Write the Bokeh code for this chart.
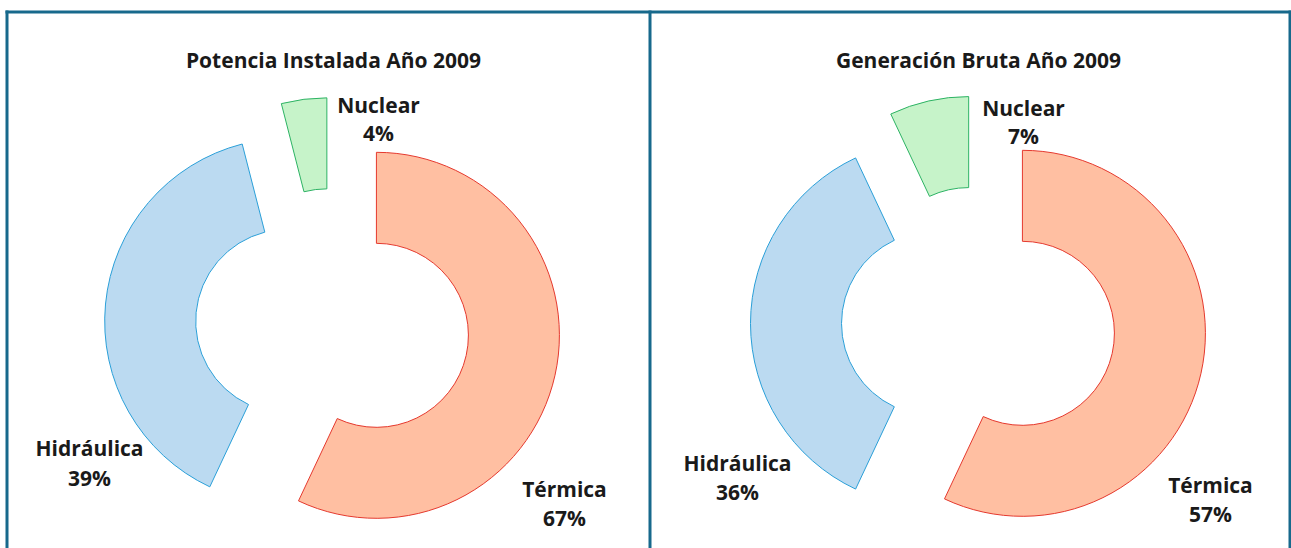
import math
from bokeh.plotting import figure
from bokeh.models import Range1d, ColumnDataSource
from bokeh.core.properties import value
from bokeh.embed import file_html
from bokeh.resources import INLINE

# ---------------- data ----------------
categories = ["Térmica", "Hidráulica", "Nuclear"]
titles = ["Potencia Instalada Año 2009", "Generación Bruta Año 2009"]
# slice sizes as drawn in the picture (percent)
potencia_values = [57, 39, 4]
generacion_values = [57, 36, 7]
# label texts as printed
potencia_labels = ["67%", "39%", "4%"]
generacion_labels = ["57%", "36%", "7%"]

# ---------------- style / layout ----------------
fills = ["#FFBFA2", "#BBDAF1", "#C6F3C9"]
edges = ["#E5392E", "#2A9FD8", "#2DB364"]
frame_color = "#17698C"
text_color = "#1A1A1A"
FONT = "Open Sans"
FS = "21px"

W, H = 1291, 548
Y0 = 548  # screen -> data conversion (y up)

def sy(y):
    return Y0 - y

p = figure(width=W, height=H, x_range=Range1d(0, W), y_range=Range1d(0, H),
           toolbar_location=None, output_backend="svg", min_border=0)
p.axis.visible = False
p.grid.visible = False
p.outline_line_color = None
p.background_fill_color = "white"
p.border_fill_color = "white"

# frame
p.segment(x0=[5, 6.5, 649.5, 1289.5], y0=[sy(11.5), sy(10), sy(10), sy(10)],
          x1=[1291, 6.5, 649.5, 1289.5], y1=[sy(11.5), sy(548), sy(548), sy(548)],
          line_color=frame_color, line_width=3)

panels = [
    dict(cx=332, cy=325, values=potencia_values, labels=potencia_labels, title=titles[0], tx=333, ty=59,
         lab_pos=[(564, 488, 517), (89, 447, 477), (378, 104, 132)]),
    dict(cx=978, cy=323, values=generacion_values, labels=generacion_labels, title=titles[1], tx=978, ty=59,
         lab_pos=[(1210, 484, 513), (737, 462, 491), (1023, 107, 135)]),
]

R_OUT, R_IN, EXPLODE = 183, 92, 45

for pan in panels:
    vals = pan["values"]
    tot = float(sum(vals))
    xs, ys, st, en = [], [], [], []
    cum = 0.0
    for v in vals:
        a0 = cum / tot * 360.0
        a1 = (cum + v) / tot * 360.0
        bis = math.radians((a0 + a1) / 2.0)
        xs.append(pan["cx"] + EXPLODE * math.sin(bis))
        ys.append(sy(pan["cy"]) + EXPLODE * math.cos(bis))
        st.append(math.radians(90.0 - a0))
        en.append(math.radians(90.0 - a1))
        cum += v
    src = ColumnDataSource(dict(x=xs, y=ys, start=st, end=en, fill=fills, line=edges))
    p.annular_wedge(x="x", y="y", inner_radius=R_IN, outer_radius=R_OUT,
                    start_angle="start", end_angle="end", direction="clock",
                    fill_color="fill", line_color="line", line_width=1, source=src)

    # title
    p.text(x=[pan["tx"]], y=[sy(pan["ty"])], text=[pan["title"]], text_font=value(FONT),
           text_font_style="bold", text_font_size=FS, text_align="center",
           text_baseline="middle", text_color=text_color)
    # labels
    lx = [lp[0] for lp in pan["lab_pos"]]
    ly1 = [sy(lp[1]) for lp in pan["lab_pos"]]
    ly2 = [sy(lp[2]) for lp in pan["lab_pos"]]
    p.text(x=lx, y=ly1, text=categories, text_font=value(FONT), text_font_style="bold",
           text_font_size=FS, text_align="center", text_baseline="middle", text_color=text_color)
    p.text(x=lx, y=ly2, text=pan["labels"], text_font=value(FONT), text_font_style="bold",
           text_font_size=FS, text_align="center", text_baseline="middle", text_color=text_color)

open("out.html", "w").write(file_html(p, INLINE))
